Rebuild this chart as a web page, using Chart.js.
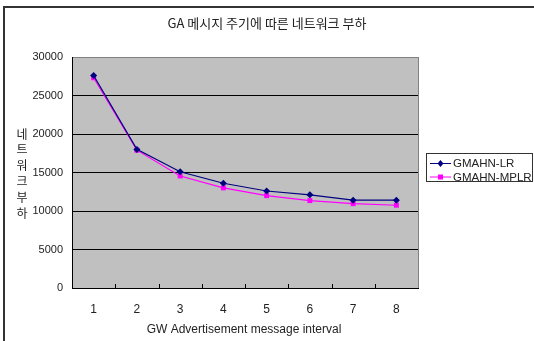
<!DOCTYPE html>
<html lang="ko">
<head>
<meta charset="UTF-8">
<title>GA 메시지 주기에 따른 네트워크 부하</title>
<script src="https://cdn.jsdelivr.net/npm/chart.js"></script>
<style>
  html, body { margin: 0; padding: 0; background: #fff; }
  #wrap { width: 534px; height: 341px; }
</style>
</head>
<body>
<div id="wrap"><canvas id="grafica" width="534" height="341"></canvas></div>
<script>
// datos de la gráfica
const intervalos = ["1", "2", "3", "4", "5", "6", "7", "8"];
const cargaLR   = [27600, 18000, 15100, 13600, 12600, 12100, 11400, 11400];
const cargaMPLR = [27300, 17900, 14550, 13000, 12000, 11350, 10950, 10750];
const ticksY = [0, 5000, 10000, 15000, 20000, 25000, 30000];

const titulo = "GA 메시지 주기에 따른 네트워크 부하";
const tituloY = ["네", "트", "워", "크", "부", "하"];
const tituloX = "GW Advertisement message interval";

const fuente = "'Liberation Sans', 'Noto Sans CJK KR', sans-serif";

// fondo gris, bordes, títulos y leyenda dibujados a mano
const extras = {
  id: "extras",
  beforeDraw(chart) {
    const ctx = chart.ctx, a = chart.chartArea;
    ctx.save();
    ctx.fillStyle = "#fff";
    ctx.fillRect(0, 0, chart.width, chart.height);
    ctx.strokeStyle = "#333";
    ctx.lineWidth = 2;
    ctx.strokeRect(4, 7, chart.width + 10, chart.height + 10);
    ctx.fillStyle = "#c0c0c0";
    ctx.fillRect(a.left, a.top, a.right - a.left, a.bottom - a.top);
    ctx.restore();
  },
  afterDraw(chart) {
    const ctx = chart.ctx, a = chart.chartArea;
    ctx.save();
    // borde derecho del área
    ctx.strokeStyle = "#808080";
    ctx.lineWidth = 1;
    ctx.beginPath();
    ctx.moveTo(a.right + 0.5, a.top);
    ctx.lineTo(a.right + 0.5, a.bottom);
    ctx.stroke();
    // marcas del eje x hacia adentro
    ctx.strokeStyle = "#000";
    const paso = (a.right - a.left) / intervalos.length;
    for (let i = 1; i < intervalos.length; i++) {
      const x = Math.round(a.left + paso * i) + 0.5;
      ctx.beginPath();
      ctx.moveTo(x, a.bottom);
      ctx.lineTo(x, a.bottom - 4);
      ctx.stroke();
    }
    // títulos
    ctx.fillStyle = "#222";
    ctx.textAlign = "center";
    ctx.textBaseline = "middle";
    ctx.font = "13px 'Noto Sans CJK KR', sans-serif";
    ctx.fillText(titulo, 267, 23);
    ctx.font = "12px 'Noto Sans CJK KR', sans-serif";
    tituloY.forEach((c, i) => ctx.fillText(c, 22, 134 + i * 15.8));
    ctx.font = "12px " + fuente;
    ctx.fillText(tituloX, 244, 330);
    // leyenda
    ctx.strokeStyle = "#333";
    ctx.strokeRect(426.5, 153.5, 106, 28);
    const filas = [
      { txt: "GMAHN-LR", color: "#000080", forma: "rombo" },
      { txt: "GMAHN-MPLR", color: "#ff00ff", forma: "cuadro" }
    ];
    filas.forEach((f, i) => {
      const y = 163 + i * 13.5;
      ctx.strokeStyle = f.color;
      ctx.lineWidth = 1;
      ctx.beginPath();
      ctx.moveTo(430, y + 0.5);
      ctx.lineTo(451, y + 0.5);
      ctx.stroke();
      ctx.fillStyle = f.color;
      if (f.forma === "rombo") {
        ctx.beginPath();
        ctx.moveTo(440.5, y - 3);
        ctx.lineTo(443.5, y + 0.5);
        ctx.lineTo(440.5, y + 4);
        ctx.lineTo(437.5, y + 0.5);
        ctx.closePath();
        ctx.fill();
      } else {
        ctx.fillRect(438, y - 2, 5, 5);
      }
      ctx.fillStyle = "#222";
      ctx.textAlign = "left";
      ctx.font = "11.5px " + fuente;
      ctx.fillText(f.txt, 453, y + 1);
    });
    ctx.restore();
  }
};

new Chart(document.getElementById("grafica"), {
  type: "line",
  data: {
    labels: intervalos,
    datasets: [
      {
        label: "GMAHN-LR",
        data: cargaLR,
        borderColor: "#000080",
        backgroundColor: "#000080",
        borderWidth: 1.2,
        pointStyle: "rectRot",
        pointRadius: 3.5,
        pointBorderWidth: 0,
        tension: 0
      },
      {
        label: "GMAHN-MPLR",
        data: cargaMPLR,
        borderColor: "#ff00ff",
        backgroundColor: "#ff00ff",
        borderWidth: 1.2,
        pointStyle: "rect",
        pointRadius: 3.5,
        pointBorderWidth: 0,
        tension: 0
      }
    ]
  },
  options: {
    responsive: false,
    animation: false,
    devicePixelRatio: 1,
    layout: { padding: { left: 0, top: 57, right: 116, bottom: 0 } },
    plugins: { legend: { display: false }, title: { display: false }, tooltip: { enabled: false } },
    scales: {
      x: {
        offset: true,
        afterFit: s => { s.height = 53; },
        grid: { display: false, drawTicks: false },
        border: { display: true, color: "#000", width: 1 },
        ticks: { color: "#222", padding: 14, font: { family: fuente, size: 12 } }
      },
      y: {
        min: 0,
        max: 30000,
        afterFit: s => { s.width = 72; },
        afterBuildTicks: s => { s.ticks = ticksY.map(v => ({ value: v })); },
        grid: {
          drawTicks: false,
          color: c => (c.tick && c.tick.value === 30000 ? "#808080" : "#000"),
          lineWidth: 1
        },
        border: { display: true, color: "#000", width: 1 },
        ticks: {
          color: "#222",
          padding: 9,
          font: { family: fuente, size: 11 },
          callback: v => String(v)
        }
      }
    }
  },
  plugins: [extras]
});
</script>
</body>
</html>
